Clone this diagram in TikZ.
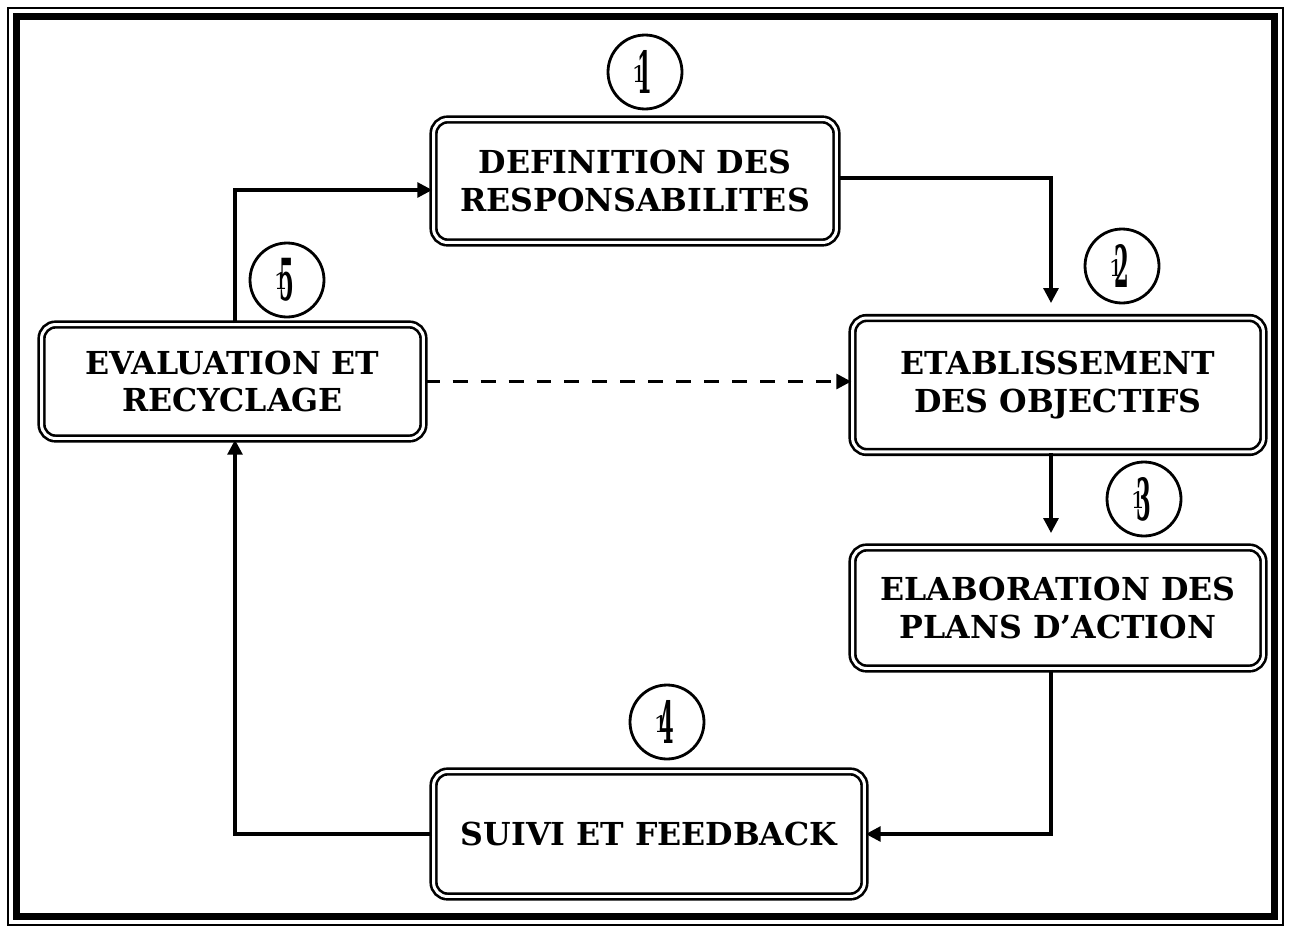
\documentclass[tikz,border=0pt]{standalone}
\usepackage{fontspec}
\setmainfont{DejaVu Serif}
\usetikzlibrary{arrows.meta}
\usepackage{graphicx}

\newcommand{\stepnum}[1]{\llap{\raisebox{6.5pt}{\fontsize{13}{13}\selectfont 1}\kern-5pt}\scalebox{0.6}[1.65]{\fontsize{20}{20}\selectfont\bfseries #1}}

\begin{document}
\begin{tikzpicture} [
                    x=0.02cm, y=-0.02cm,
                    phase/.style={draw, double, double distance=1.7pt, line width=1.5pt, rounded corners=8pt, align=center,
                                  font=\fontsize{18}{21.5}\selectfont\bfseries, inner sep=0pt},
                    numcirc/.style={draw, circle, line width=1.6pt, minimum size=1.48cm, inner sep=0pt},
                    arr/.style={line width=1.8pt, -{Triangle[length=8.5pt,width=8.5pt]}},
                    dasharr/.style={arr, dash pattern=on 8.5pt off 7.4pt}
                ]
                \useasboundingbox (0,0) rectangle (1291,933);
                % frame
                \draw [line width=1.1pt] (8,8) rectangle (1283,925);
                \draw [line width=4.1pt] (16.5,16.5) rectangle (1274.5,916.5);
                % phases
                \node [phase, minimum width=8.06cm, minimum height=2.46cm] (def) at (635,181) {DEFINITION DES\\RESPONSABILITES};
                \node [phase, minimum width=8.22cm, minimum height=2.68cm] (etab) at (1058,385) {ETABLISSEMENT\\DES OBJECTIFS};
                \node [phase, minimum width=8.22cm, minimum height=2.42cm] (elab) at (1058,608) {ELABORATION DES\\PLANS D'ACTION};
                \node [phase, minimum width=8.62cm, minimum height=2.5cm] (suivi) at (649,834) {SUIVI ET FEEDBACK};
                \node [phase, minimum width=7.64cm, minimum height=2.28cm] (eval) at (232.5,381.5) {EVALUATION ET\\RECYCLAGE};
                % numbers
                \node [numcirc] (n1) at (645,72) {\stepnum{1}};
                \node [numcirc] (n2) at (1122,266) {\stepnum{2}};
                \node [numcirc] (n3) at (1144,499) {\stepnum{3}};
                \node [numcirc] (n4) at (667,722) {\stepnum{4}};
                \node [numcirc] (n5) at (287,280) {\stepnum{5}};
                % links
                \coordinate (top2) at (1051,303);
                \coordinate (top3) at (1051,533);
                \draw [arr] (eval.north -| 235,0) |- ([yshift=-0.18cm]def.west);
                \draw [arr] ([yshift=0.06cm]def.east) -| (top2);
                \draw [arr] (etab.south -| top3) -- (top3);
                \draw [arr] (elab.south -| top3) |- (suivi.east);
                \draw [arr] (suivi.west) -| (eval.south -| 235,0);
                \draw [dasharr] (eval.east) -- (eval.east -| etab.west);
\end{tikzpicture}
\end{document}
